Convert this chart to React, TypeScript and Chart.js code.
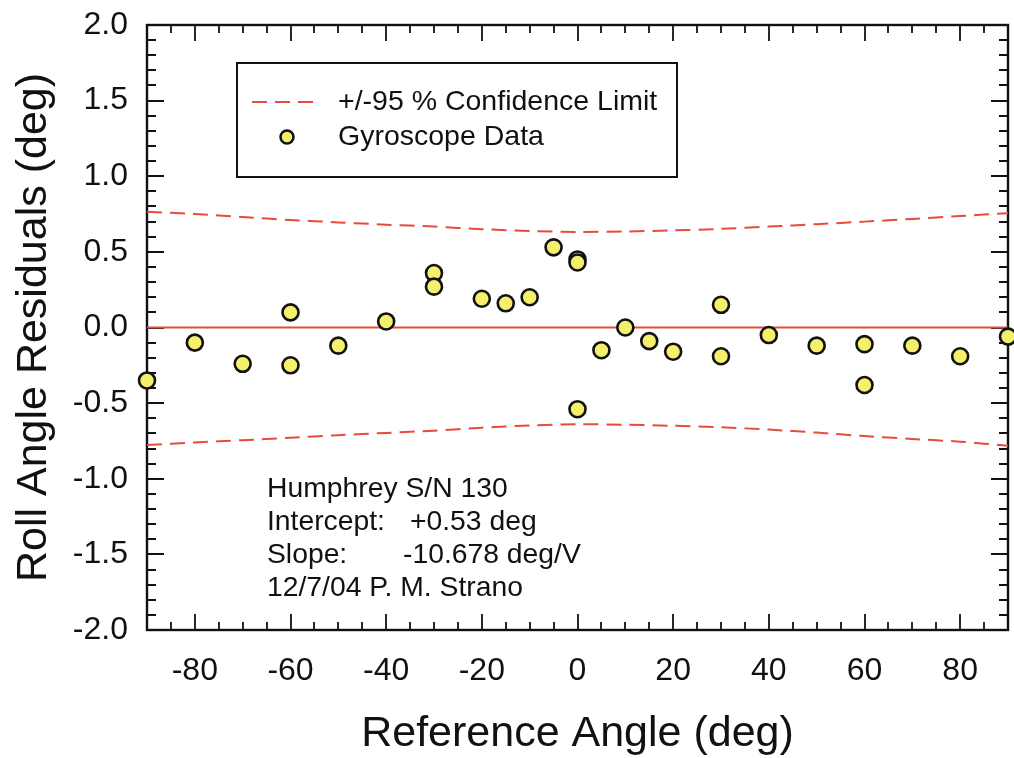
import { useEffect, useRef } from "react";
import { Chart, registerables } from "chart.js";

Chart.register(...registerables);

// Gyroscope residual measurements (deg) at each reference angle (deg)
const gyroAngles = [-90, -80, -70, -60, -60, -50, -40, -30, -30, -20, -15, -10, -5, 0, 0, 0, 5, 10, 15, 20, 30, 30, 40, 50, 60, 60, 70, 80, 90];
const gyroResiduals = [-0.35, -0.1, -0.24, 0.1, -0.25, -0.12, 0.04, 0.36, 0.27, 0.19, 0.16, 0.2, 0.53, 0.45, 0.43, -0.54, -0.15, 0.0, -0.09, -0.16, 0.15, -0.19, -0.05, -0.12, -0.11, -0.38, -0.12, -0.19, -0.06];

// 95 % confidence band around the fit
const limitAngles = [-90, -80, -70, -60, -50, -40, -30, -20, -10, 0, 10, 20, 30, 40, 50, 60, 70, 80, 90];
const upperLimit = [0.766, 0.75, 0.73, 0.711, 0.695, 0.68, 0.667, 0.65, 0.638, 0.632, 0.635, 0.642, 0.652, 0.667, 0.683, 0.7, 0.718, 0.737, 0.756];
const lowerLimit = [-0.777, -0.76, -0.745, -0.729, -0.712, -0.697, -0.682, -0.662, -0.648, -0.64, -0.643, -0.65, -0.66, -0.675, -0.695, -0.718, -0.737, -0.755, -0.782];

// Zero residual reference line
const zeroAngles = [-90, 90];
const zeroResiduals = [0, 0];

// Axis ticks
const xTickValues = [-80, -60, -40, -20, 0, 20, 40, 60, 80];
const yTickValues = [-2, -1.5, -1, -0.5, 0, 0.5, 1, 1.5, 2];
const xMinorStep = 5;
const yMinorStep = 0.1;

const legendLabels = ["+/-95 % Confidence Limit", "Gyroscope Data"];
const noteRows: [string, string][] = [
  ["Humphrey S/N 130", ""],
  ["Intercept:", "+0.53 deg"],
  ["Slope:", "-10.678 deg/V"],
  ["12/7/04 P. M. Strano", ""],
];

const FONT = "'Liberation Sans', Arial, Helvetica, sans-serif";
const RED = "#e84a3c";
const YELLOW = "#f4f06b";
const INK = "#111111";

const pts = (xs: number[], ys: number[]) => xs.map((x, i) => ({ x, y: ys[i] }));

// Frame and inward-pointing tick marks on all four sides, plus legend and note
const framePlugin = {
  id: "frameTicks",
  beforeDatasetsDraw(chart: any) {
    const { ctx, chartArea: a, scales } = chart;
    const xs = scales.x;
    const ys = scales.y;
    ctx.save();
    ctx.strokeStyle = INK;
    ctx.lineCap = "butt";
    ctx.lineWidth = 1.8;
    for (let v = xs.min; v <= xs.max + 1e-9; v += xMinorStep) {
      const px = Math.round(xs.getPixelForValue(v));
      const major = Math.abs(v % 20) < 1e-9;
      const len = major ? 16 : 8;
      ctx.beginPath();
      ctx.moveTo(px, a.bottom);
      ctx.lineTo(px, a.bottom - len);
      ctx.moveTo(px, a.top);
      ctx.lineTo(px, a.top + len);
      ctx.stroke();
    }
    ctx.lineWidth = 2.2;
    for (let i = 0; i <= Math.round((ys.max - ys.min) / yMinorStep); i++) {
      const v = ys.min + i * yMinorStep;
      const py = Math.round(ys.getPixelForValue(v));
      const major = i % 5 === 0;
      const len = major ? 17 : 9;
      ctx.beginPath();
      ctx.moveTo(a.left, py);
      ctx.lineTo(a.left + len, py);
      ctx.moveTo(a.right, py);
      ctx.lineTo(a.right - len, py);
      ctx.stroke();
    }
    ctx.lineWidth = 2.4;
    ctx.strokeRect(a.left, a.top, a.right - a.left, a.bottom - a.top);
    ctx.restore();
  },
  afterDraw(chart: any) {
    const { ctx } = chart;
    const gyro = chart.data.datasets[0];
    const band = chart.data.datasets[1];
    ctx.save();
    // legend box
    ctx.strokeStyle = INK;
    ctx.lineWidth = 2;
    ctx.fillStyle = "#ffffff";
    ctx.fillRect(237, 63, 440, 114);
    ctx.strokeRect(237, 63, 440, 114);
    // confidence band entry
    ctx.strokeStyle = band.borderColor;
    ctx.lineWidth = 2;
    ctx.setLineDash(band.borderDash);
    ctx.beginPath();
    ctx.moveTo(252, 102);
    ctx.lineTo(314, 102);
    ctx.stroke();
    ctx.setLineDash([]);
    // data entry
    ctx.beginPath();
    ctx.arc(287, 137, 6.5, 0, Math.PI * 2);
    ctx.fillStyle = gyro.pointBackgroundColor;
    ctx.fill();
    ctx.strokeStyle = gyro.pointBorderColor;
    ctx.lineWidth = 2.5;
    ctx.stroke();
    ctx.fillStyle = INK;
    ctx.font = `28.5px ${FONT}`;
    ctx.textBaseline = "middle";
    ctx.textAlign = "left";
    ctx.fillText(legendLabels[0], 338, 102);
    ctx.fillText(legendLabels[1], 338, 137);
    // instrument note
    ctx.font = `28.3px ${FONT}`;
    ctx.textBaseline = "alphabetic";
    const valueX = [0, 410, 403, 0];
    noteRows.forEach(([label, value], i) => {
      const y = 497 + i * 33;
      ctx.fillText(label, 267, y);
      if (value) ctx.fillText(value, valueX[i], y);
    });
    ctx.restore();
  },
};

export default function App() {
  const canvasRef = useRef<HTMLCanvasElement | null>(null);

  useEffect(() => {
    if (!canvasRef.current) return;
    const chart = new Chart(canvasRef.current, {
      type: "scatter",
      data: {
        datasets: [
          {
            label: legendLabels[1],
            data: pts(gyroAngles, gyroResiduals),
            showLine: false,
            pointRadius: 8,
            pointBorderWidth: 2.6,
            pointBackgroundColor: YELLOW,
            pointBorderColor: "#111111",
            clip: false,
            order: 0,
          } as any,
          {
            label: legendLabels[0],
            data: pts(limitAngles, upperLimit),
            showLine: true,
            borderColor: RED,
            borderWidth: 2,
            borderDash: [15, 8],
            pointRadius: 0,
            tension: 0.3,
            order: 1,
          },
          {
            label: "lower",
            data: pts(limitAngles, lowerLimit),
            showLine: true,
            borderColor: RED,
            borderWidth: 2,
            borderDash: [15, 8],
            pointRadius: 0,
            tension: 0.3,
            order: 1,
          },
          {
            label: "zero",
            data: pts(zeroAngles, zeroResiduals),
            showLine: true,
            borderColor: RED,
            borderWidth: 2,
            pointRadius: 0,
            order: 2,
          },
        ],
      },
      options: {
        animation: false,
        responsive: true,
        maintainAspectRatio: false,
        layout: { autoPadding: false, padding: { top: 25, right: 6, left: 0, bottom: 0 } },
        plugins: { legend: { display: false }, tooltip: { enabled: false } },
        scales: {
          x: {
            type: "linear",
            min: -90,
            max: 90,
            grid: { display: false, drawTicks: false },
            border: { display: false },
            afterBuildTicks: (s: any) => {
              s.ticks = xTickValues.map((value) => ({ value }));
            },
            afterFit: (s: any) => {
              s.height = 128;
              s.paddingLeft = 0;
              s.paddingRight = 0;
            },
            ticks: {
              color: INK,
              padding: 22,
              font: { family: FONT, size: 32 },
              callback: (v: any) => String(v),
            },
            title: {
              display: true,
              text: "Reference Angle (deg)",
              color: INK,
              font: { family: FONT, size: 43 },
              padding: { top: 0, bottom: -2 },
            },
          },
          y: {
            type: "linear",
            min: -2,
            max: 2,
            grid: { display: false, drawTicks: false },
            border: { display: false },
            afterBuildTicks: (s: any) => {
              s.ticks = yTickValues.map((value) => ({ value }));
            },
            afterFit: (s: any) => {
              s.width = 147;
              s.paddingTop = 0;
              s.paddingBottom = 0;
            },
            ticks: {
              color: INK,
              padding: 19,
              font: { family: FONT, size: 32 },
              callback: (v: any) => Number(v).toFixed(1),
            },
            title: {
              display: true,
              text: "Roll Angle Residuals (deg)",
              color: INK,
              font: { family: FONT, size: 43 },
              padding: { top: 8, bottom: 0 },
            },
          },
        },
      },
      plugins: [framePlugin],
    });
    return () => chart.destroy();
  }, []);

  return (
    <div style={{ position: "fixed", left: 0, top: 0, width: 1014, height: 758, background: "#ffffff" }}>
      <canvas ref={canvasRef} />
    </div>
  );
}
